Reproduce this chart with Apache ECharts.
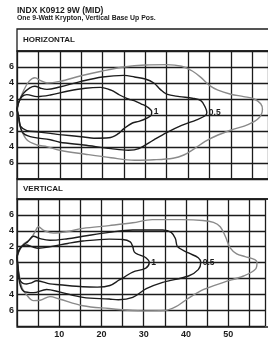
<!DOCTYPE html>
<html>
<head>
<meta charset="utf-8">
<script src="https://cdn.jsdelivr.net/npm/echarts@6/dist/echarts.min.js"></script>
<style>
  html, body { margin: 0; padding: 0; background: #fff; }
  #chart { width: 268px; height: 339px; }
</style>
</head>
<body>
<div id="chart"></div>
<script>
// isolux contours, x = distance (ft), y = lateral offset (ft)
const xLabelValues = [10, 20, 30, 40, 50]
const yLabelValues = [-6, -4, -2, 0, 2, 4, 6]
const contourNames = ['', '0.5', '1']

// HORIZONTAL plane
const horizOuter = [[0,0.7],[0.4,1.6],[1.5,3.0],[2.8,4.2],[4.2,4.65],[5.5,4.3],[7,4.0],[10,4.2],[15,4.9],[20,5.5],[25,6.0],[30,6.25],[35,6.3],[38.5,6.1],[41,5.5],[43,4.7],[45,3.7],[47,3.1],[50,2.6],[53,2.3],[55.5,2.0],[57,1.4],[57.4,0.7],[56.5,-0.4],[54,-1.2],[50.5,-1.8],[47,-2.5],[44,-3.3],[41.5,-4.2],[39,-5.0],[36.5,-5.4],[32,-5.6],[27.5,-5.65],[22,-5.35],[16,-4.9],[10,-4.4],[7,-3.95],[4.7,-3.75],[2.3,-3.1],[0.8,-1.5],[0.4,-0.3],[0,0.7]]
const horizHalf = [[0,0.7],[0.4,1.6],[1.5,2.7],[3,3.4],[4.2,3.6],[5.5,3.35],[7,3.2],[10,3.5],[15,4.2],[20,4.75],[25,4.95],[27.5,4.75],[30,4.5],[32,4.0],[33.5,3.2],[35,2.6],[38,2.3],[41,2.1],[43,1.8],[44,1.0],[44.4,0.3],[44,-0.1],[42,-0.6],[38.5,-1.3],[35,-2.2],[32,-3.1],[28.5,-4.2],[26,-4.4],[22,-4.2],[15.6,-3.75],[10,-3.4],[7.8,-3.1],[3.1,-2.7],[1.2,-2.1],[0.4,-0.3],[0,0.7]]
const horizOne = [[0,0.7],[0.4,1.6],[1.2,2.3],[2.3,2.55],[4.7,2.3],[7.8,2.5],[12,3.0],[16,3.35],[19.5,3.45],[22,3.1],[24,2.5],[26,2.0],[27.4,1.8],[29,1.4],[30.5,1.0],[31.5,0.4],[31.4,0.0],[30.5,-0.35],[28.5,-0.8],[27,-1.0],[25,-1.7],[23.5,-2.4],[21.5,-2.85],[18,-2.9],[15.6,-2.75],[10,-2.45],[7.8,-2.3],[4.7,-2.1],[2.3,-1.95],[0.8,-1.4],[0.4,-0.3],[0,0.7]]

// VERTICAL plane
const vertOuter = [[0,0.7],[0.4,1.3],[1.5,2.3],[3.1,2.9],[4.2,3.8],[5.05,4.5],[6.5,4.0],[8.6,3.7],[12,3.9],[15.6,4.3],[21.8,4.65],[27.4,5.0],[32,5.4],[39,5.4],[44,5.3],[46.5,5.05],[48.1,4.5],[49.3,3.3],[50.5,1.8],[52,1.1],[54,0.75],[56.3,0.35],[56.8,0],[56.5,-0.8],[53.6,-1.7],[48.9,-2.5],[44.2,-3.4],[40.3,-4.6],[37.5,-5.6],[35,-6.05],[30,-6.1],[27.3,-6.05],[21.8,-5.8],[15.6,-5.45],[10,-4.6],[7.8,-4.3],[5.5,-4.75],[3.9,-4.8],[2.3,-4.1],[1.2,-3.2],[0.5,-1.5],[0.2,-0.3],[0,0.7]]
const vertHalf = [[0,0.7],[0.4,1.5],[1.5,2.2],[2.5,2.6],[3.9,3.3],[5.5,3.0],[7.8,2.8],[12,3.0],[15.6,3.3],[21.8,3.8],[27.4,4.1],[34.5,4.1],[36.5,3.8],[37.5,3.0],[38,2.0],[40.6,1.2],[42.9,0.6],[43.5,0],[42.9,-0.9],[40.6,-1.7],[34.5,-2.5],[30.6,-3.3],[27.4,-4.4],[24,-4.7],[21.8,-4.6],[15.6,-4.4],[10,-3.7],[7,-3.4],[3.9,-3.8],[1.55,-3.6],[0.6,-2.5],[0.2,-0.3],[0,0.7]]
const vertOne = [[0,0.7],[0.4,1.4],[1.0,2.0],[2.3,2.2],[3.5,2.0],[5.05,1.8],[8,2.0],[12,2.4],[15.6,2.7],[21.8,2.95],[25,2.9],[26.8,2.6],[27.4,2.0],[27.8,1.3],[29,0.95],[30.5,0.6],[31.3,0],[30.5,-0.7],[27.4,-1.2],[25.5,-1.8],[24.2,-2.2],[22,-2.9],[19,-3.1],[15.6,-3.05],[10,-2.8],[7.8,-2.7],[4.7,-2.3],[3.2,-2.6],[2.3,-2.7],[0.8,-2.3],[0.3,-1.0],[0,0.7]]

const FONT = 'Liberation Sans'
const INK = '#1c1c1c'
const GRAY = '#8a8a8a'
const X_MAX = 58.7

const myChart = echarts.init(document.getElementById('chart'), null, { renderer: 'canvas' })

function tipOf(data) {
  return data.reduce((a, b) => (b[0] > a[0] ? b : a))
}

function contour(data, name, color, idx) {
  const s = {
    type: 'line',
    xAxisIndex: idx,
    yAxisIndex: idx,
    data: data,
    smooth: 0.35,
    showSymbol: false,
    silent: true,
    lineStyle: { color: color, width: 1.4 },
    z: 5
  }
  if (name) {
    s.markPoint = {
      symbol: 'circle',
      symbolSize: 0,
      silent: true,
      label: {
        show: true,
        position: 'right',
        distance: 2,
        formatter: name,
        color: INK,
        fontFamily: FONT,
        fontWeight: 'bold',
        fontSize: 8.5
      },
      data: [{ coord: tipOf(data) }]
    }
  }
  return s
}

const grids = [
  { left: 17, right: 0, top: 51, height: 128 },
  { left: 17, right: 0, top: 199, height: 128 }
]

function xAxis(idx, showLabels) {
  return {
    type: 'value',
    gridIndex: idx,
    min: 0,
    max: X_MAX,
    interval: 5,
    axisLine: { show: false },
    axisTick: { show: false },
    splitLine: { show: true, lineStyle: { color: INK, width: 1.3 } },
    axisLabel: {
      show: showLabels,
      margin: 4,
      color: INK,
      fontFamily: FONT,
      fontWeight: 'bold',
      fontSize: 9,
      formatter: v => (xLabelValues.includes(v) ? String(v) : '')
    }
  }
}

function yAxis(idx) {
  return {
    type: 'value',
    gridIndex: idx,
    min: -8,
    max: 8,
    interval: 2,
    axisLine: { show: false },
    axisTick: { show: false },
    splitLine: { show: true, lineStyle: { color: INK, width: 1.3 } },
    axisLabel: {
      margin: 3,
      color: INK,
      fontFamily: FONT,
      fontWeight: 'bold',
      fontSize: 9,
      formatter: v => (yLabelValues.includes(v) ? String(Math.abs(v)) : '')
    }
  }
}

const frame = { stroke: INK, lineWidth: 1.3, fill: 'none' }

myChart.setOption({
  animation: false,
  backgroundColor: '#fff',
  grid: grids,
  xAxis: [xAxis(0, false), xAxis(1, true)],
  yAxis: [yAxis(0), yAxis(1)],
  graphic: [
    { type: 'text', left: 17, top: 6, style: { text: 'INDX K0912 9W (MID)', font: 'bold 8.5px ' + FONT, fill: INK } },
    { type: 'text', left: 17, top: 15, style: { text: 'One 9-Watt Krypton, Vertical Base Up Pos.', font: 'bold 6.9px ' + FONT, fill: INK } },
    { type: 'rect', shape: { x: 17, y: 29, width: 270, height: 22 }, style: frame, z: 10 },
    { type: 'rect', shape: { x: 17, y: 51, width: 270, height: 128 }, style: frame, z: 10 },
    { type: 'rect', shape: { x: 17, y: 179, width: 270, height: 20 }, style: frame, z: 10 },
    { type: 'rect', shape: { x: 17, y: 199, width: 270, height: 128 }, style: frame, z: 10 },
    { type: 'text', left: 23, top: 36, style: { text: 'HORIZONTAL', font: 'bold 8px ' + FONT, fill: INK } },
    { type: 'text', left: 23, top: 185, style: { text: 'VERTICAL', font: 'bold 8px ' + FONT, fill: INK } }
  ],
  series: [
    contour(horizOuter, contourNames[0], GRAY, 0),
    contour(horizHalf, contourNames[1], INK, 0),
    contour(horizOne, contourNames[2], INK, 0),
    contour(vertOuter, contourNames[0], GRAY, 1),
    contour(vertHalf, contourNames[1], INK, 1),
    contour(vertOne, contourNames[2], INK, 1)
  ]
})
</script>
</body>
</html>
